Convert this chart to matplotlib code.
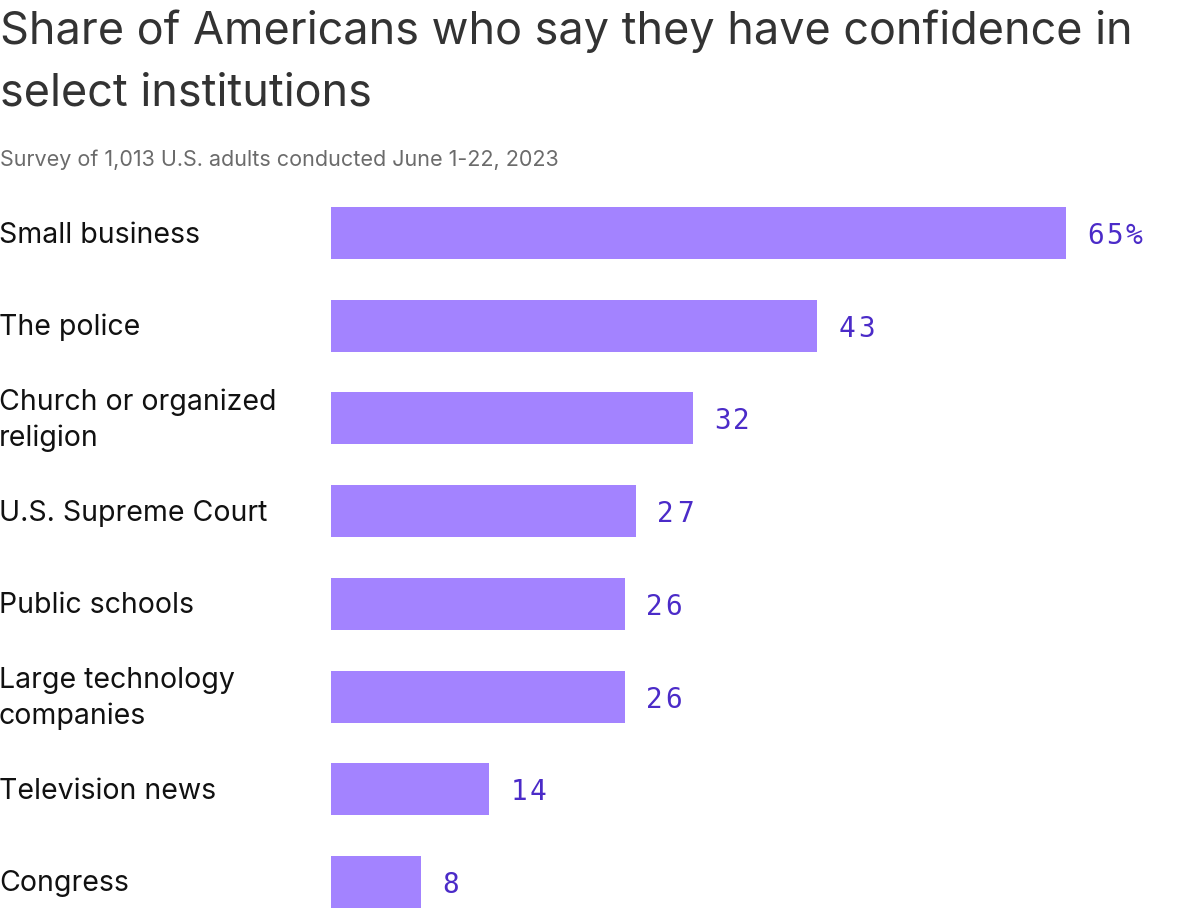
import matplotlib
matplotlib.use("Agg")
import matplotlib.pyplot as plt
from matplotlib.font_manager import FontProperties

# data
institutions = ["Small business", "The police", "Church or organized\nreligion",
                "U.S. Supreme Court", "Public schools",
                "Large technology\ncompanies", "Television news", "Congress"]
shares = [65, 43, 32, 27, 26, 26, 14, 8]
value_labels = ["65%", "43", "32", "27", "26", "26", "14", "8"]

title = "Share of Americans who say they have confidence in\nselect institutions"
subtitle = "Survey of 1,013 U.S. adults conducted June 1-22, 2023"

bar_color = "#a383ff"
label_color = "#4b2bc8"

plt.rcParams["font.family"] = ["Inter", "DejaVu Sans"]
mono = FontProperties(family="DejaVu Sans Mono", size=20)

W, H = 1200, 923
fig = plt.figure(figsize=(W / 100, H / 100), dpi=100)

# axes placed so the bars land where they sit in the picture
left, right = 331, 1066
top_px = 233 - 0.5 * 92.7
bot_px = 882 + 0.4 * 92.7
ax = fig.add_axes([left / W, 1 - bot_px / H, (right - left) / W, (bot_px - top_px) / H])

ypos = list(range(len(shares)))
ax.barh(ypos, shares, height=0.56, color=bar_color)
ax.set_xlim(0, 65)
ax.set_ylim(7.4, -0.5)
ax.axis("off")

# value labels are letter-spaced, so place them one character at a time
for y, v, lab in zip(ypos, shares, value_labels):
    for i, ch in enumerate(lab):
        ax.annotate(ch, (v, y), xytext=(21 + i * 19.5, -3), textcoords="offset pixels",
                    va="center", ha="left", color=label_color, fontproperties=mono)

for y, name in zip(ypos, institutions):
    ax.annotate(name, (0, y), xytext=(-332, -2), textcoords="offset pixels",
                va="center", ha="left", fontsize=20.5, color="#111111",
                linespacing=1.4)

fig.text(0.0, 1 - 9 / H, title, ha="left", va="top", fontsize=32.4,
         color="#333333", linespacing=1.6)
fig.text(0.0, 1 - 160 / H, subtitle, ha="left", va="center", fontsize=15.5,
         color="#6b6b6b")

fig.savefig("out.png", dpi=100)
